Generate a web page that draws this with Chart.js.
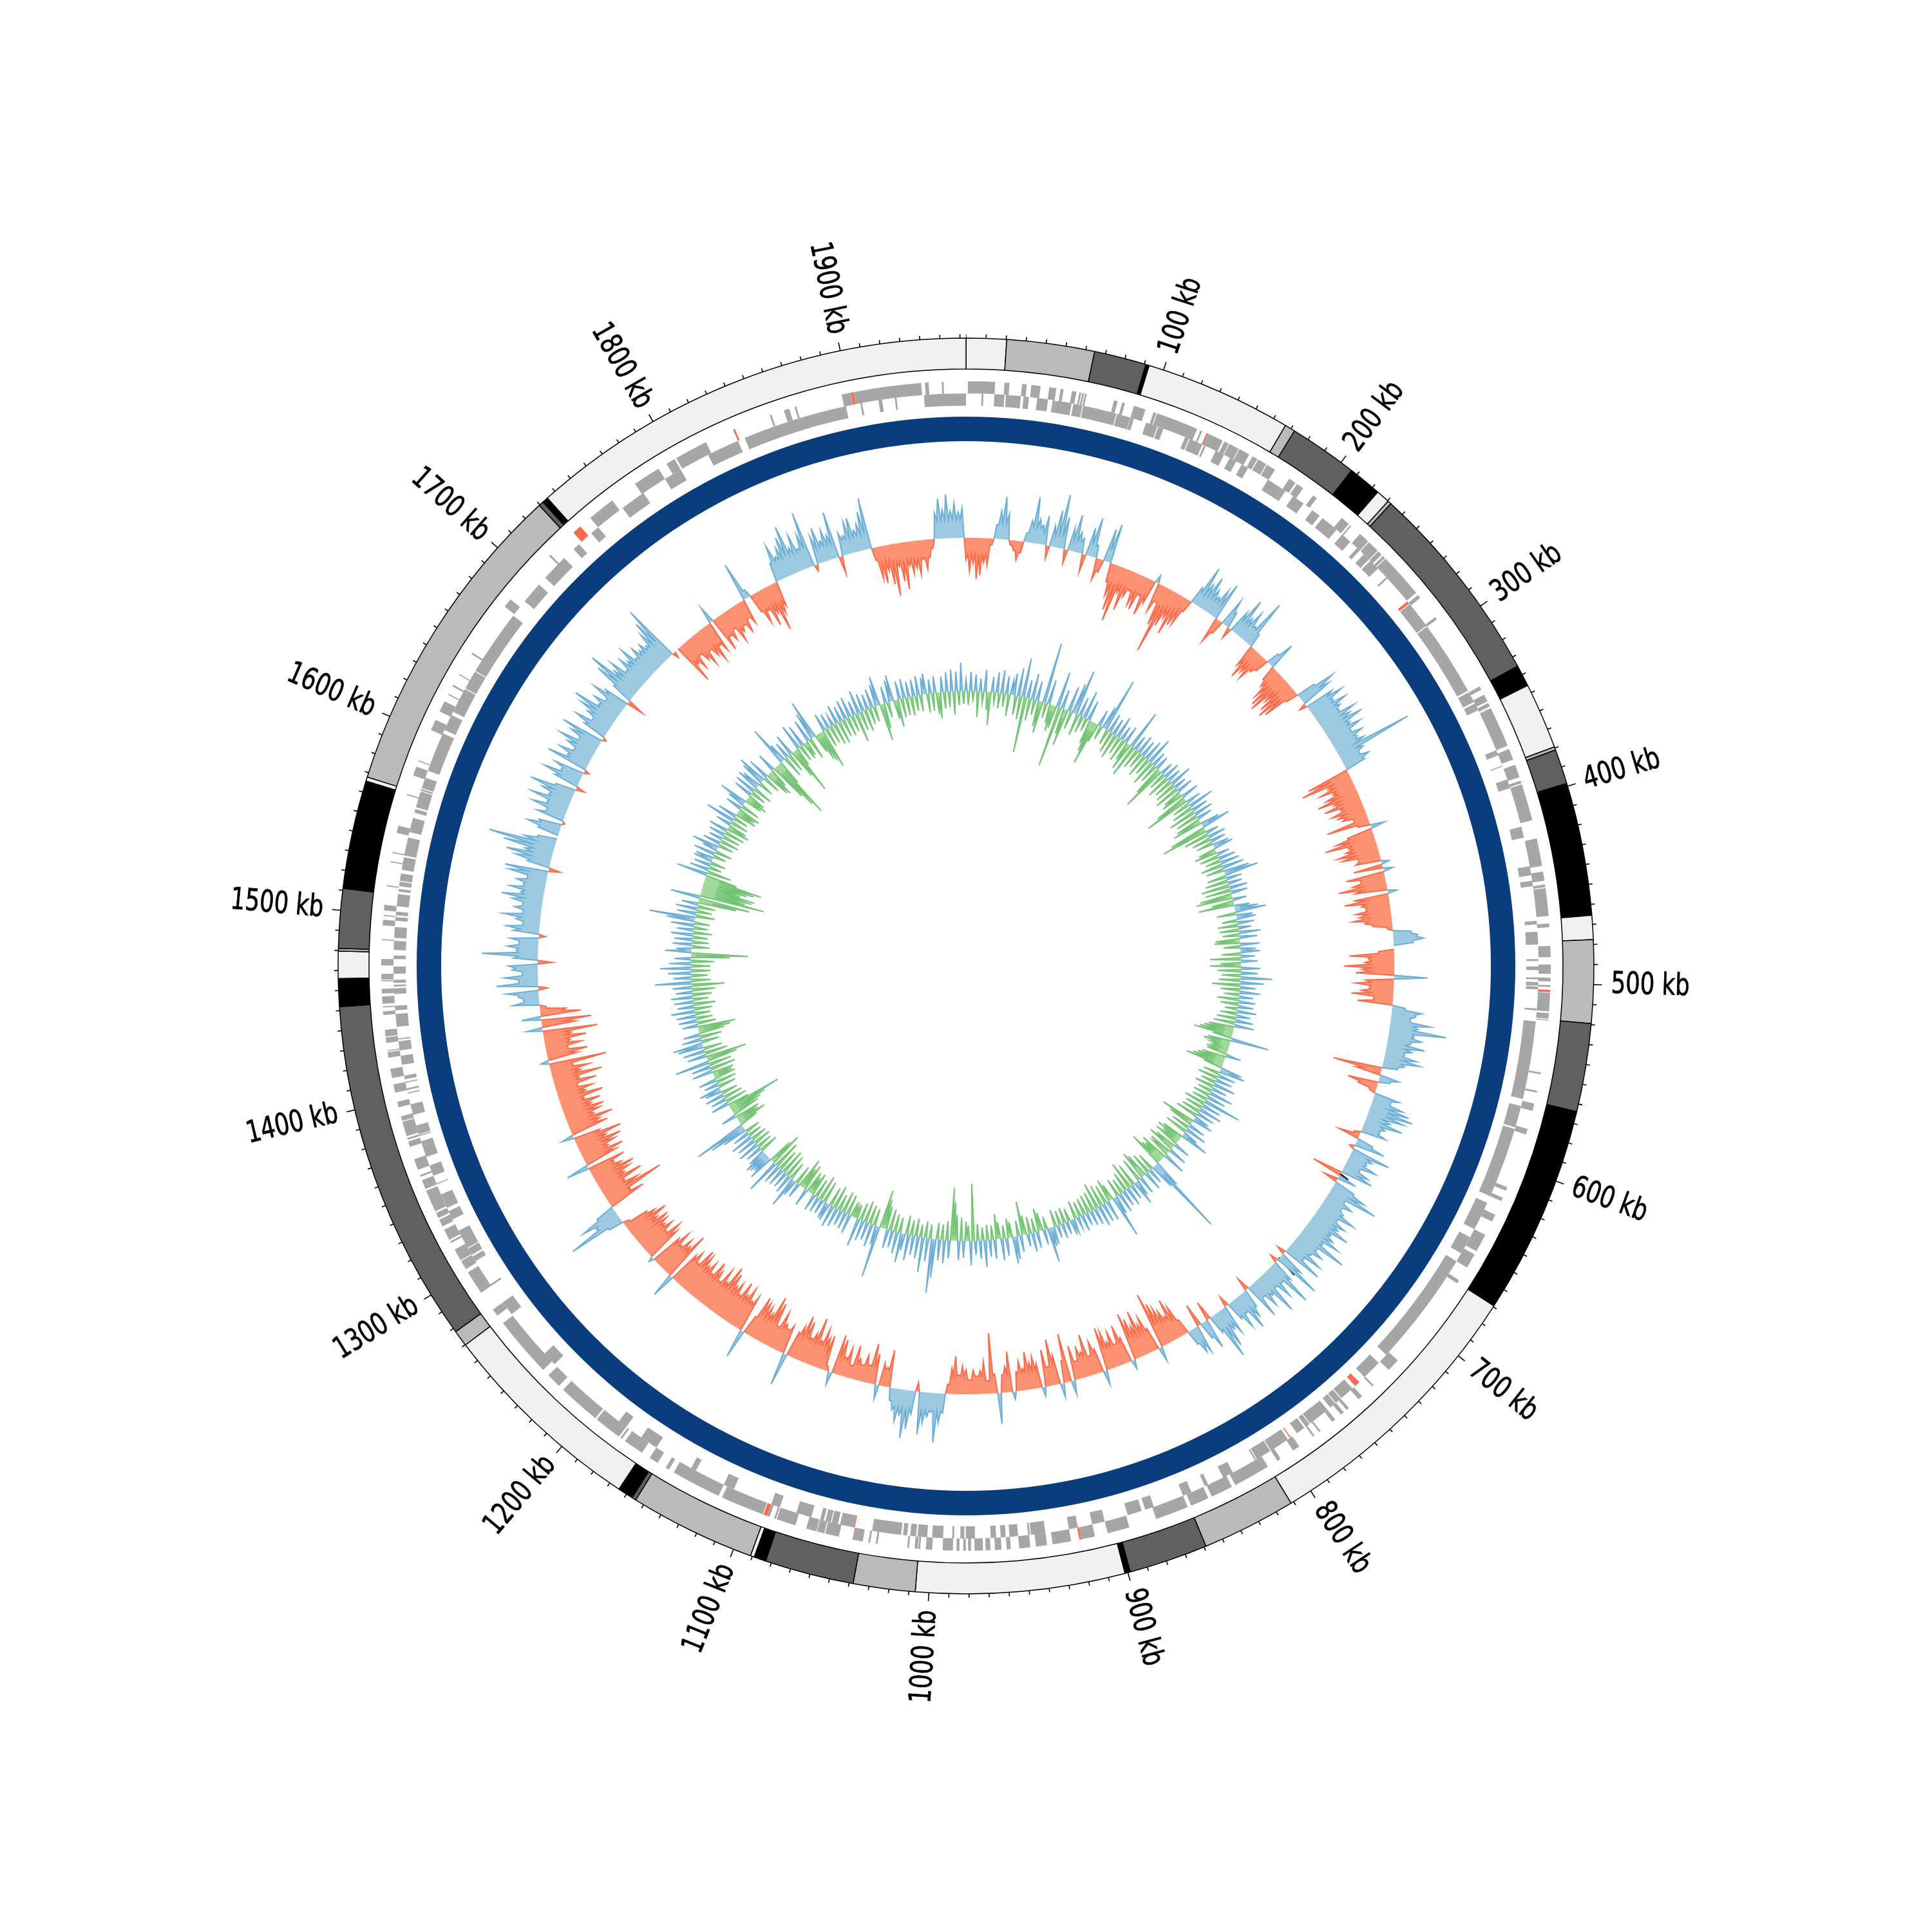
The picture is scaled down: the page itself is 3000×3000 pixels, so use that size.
<!DOCTYPE html>
<html><head><meta charset="utf-8">
<script src="https://cdn.jsdelivr.net/npm/chart.js@4"></script>
<style>html,body{margin:0;padding:0;background:#fff}#w{position:relative;width:3000px;height:3000px}canvas{position:absolute;left:0;top:0}</style>
</head><body><div id="w"><canvas id="rings" width="3000" height="3000"></canvas><canvas id="outerTrack" width="3000" height="3000"></canvas><canvas id="innerTrack" width="3000" height="3000"></canvas></div>
<script>
const genomeKb = 1963;
const majorKb = [100,200,300,400,500,600,700,800,900,1000,1100,1200,1300,1400,1500,1600,1700,1800,1900];
const tickLabels = ["100 kb","200 kb","300 kb","400 kb","500 kb","600 kb","700 kb","800 kb","900 kb","1000 kb","1100 kb","1200 kb","1300 kb","1400 kb","1500 kb","1600 kb","1700 kb","1800 kb","1900 kb"];
const bandEnds = [20.3,64.5,90.8,92.5,166.8,172,206.6,223.5,230.4,232.2,335.2,346,379.4,381,398.6,465.5,477.6,519.5,563.9,669.5,811.5,859,898.8,901.5,1006.8,1038,1083,1089,1091,1154.6,1156.7,1164.5,1269.8,1278,1452,1466,1479.7,1481,1511,1565.7,1567.8,1729.6,1732,1735,1963];
const bandStains = ["#f0f0f0","#bababa","#606060","#000000"];
const outerGenes = [[1,15.6],[20.6,23.3],[30,32.6],[35,40],[44.7,48.5],[50.8,52.4],[57,59.4],[61,62],[62.5,63.5],[64,65],[80,82],[84.5,86],[91,97.5],[102,103.6],[104,127],[129,130],[132.5,133.2],[133.2,142],[143,145.6],[146,151.6],[152,158],[160,163],[163.5,168.5],[169,174],[183,187],[188,192],[198.5,201],[218,223],[224,224.8],[231,237],[237.5,244],[244.5,247],[248,249.5],[250,274.5],[276,278],[291,292.5],[335,337],[340,344],[345,347],[348,370],[372,378],[381,388],[390,391.5],[392,412],[422,437],[440,445],[447,448.5],[449,464],[468,470],[480,486],[490,495],[497,499],[501,502],[503.5,504.7],[505,515],[516,519],[519.5,520],[548,549],[558,559],[565,569],[579,582],[612,614],[618,620],[628,632],[640,650],[652,660],[668,670],[722,729],[740.5,741.5],[749,751.5],[758.5,760],[762,764],[768,770],[778,779],[782,783],[792,796],[804,806],[812,832],[834,846],[848,858],[860,878],[893,905],[912,919.5],[919.5,920.5],[925,935],[938,944],[947,953],[957.5,959.7],[962.5,966],[968.4,971],[972.4,976.9],[978.8,980.4],[981.6,983],[985,986.6],[988.5,994],[999.6,1003],[1006,1007],[1007.3,1009],[1012,1013],[1029,1030],[1033,1034],[1037,1042.6],[1050,1057.5],[1058,1062],[1062.3,1068],[1074,1084.5],[1085,1086],[1088.5,1090],[1090,1092],[1092.4,1116],[1118,1145],[1148,1150],[1155,1160],[1165,1176],[1178,1179],[1180,1195],[1196,1219],[1222,1230],[1234,1267],[1272,1276],[1287,1300],[1302,1307],[1307.5,1314],[1318,1319],[1320,1326],[1328,1332],[1333,1336],[1337,1349],[1350,1355],[1357,1358],[1361,1367],[1374,1377],[1378,1379],[1380,1388],[1388.5,1391],[1396,1399],[1404,1408.5],[1412,1417],[1423,1426],[1426.5,1427],[1431,1434],[1434.5,1438],[1446,1448],[1450,1450.6],[1452,1456],[1457.5,1460],[1464,1464.6],[1465,1468],[1472.5,1476],[1486,1486.6],[1494,1497],[1499,1499.6],[1502,1505],[1515,1515.6],[1528,1528.6],[1533,1533.6],[1544,1548],[1565,1565.6],[1576,1581],[1584,1584.6],[1602,1608],[1613,1619],[1623,1623.6],[1628,1629],[1635,1635.6],[1648,1649],[1679,1684],[1715,1716],[1733,1738],[1745,1760],[1775,1790],[1795,1800],[1801,1819],[1835,1836],[1856,1857],[1864,1867],[1870,1871],[1896,1901],[1901,1902.5],[1902.5,1939],[1941,1943],[1950,1951]];
const innerGenes = [[8.5,9.5],[15.5,21],[21.8,30],[31.5,34.5],[39,45],[47.5,49],[49,58],[59,64],[64.5,83],[83.5,91],[91.2,93],[100,106.5],[107,110],[122.7,125],[125.5,131],[131,133],[134,135],[141,146],[149.6,153.6],[157,161],[173.6,183],[183,185],[190,197],[203,208],[210,220],[224,230],[235,237],[240,244],[245,251],[257.5,258.5],[275,276.5],[277,292],[292.5,334],[335,341],[342,346],[370,373],[379,379.6],[387,392],[414,420],[436,441],[444,447],[466,468],[472,479],[487,488],[491,493],[497,498],[499.5,501.5],[502,503.5],[514,515],[521,564],[568,580],[581,620],[624,640],[645,655],[660,724],[730,741],[745,748],[750,758],[758.5,762],[762.5,766],[768,780],[780.5,783],[784,789],[793,793.6],[795,806],[806.5,815],[815.5,816.3],[830,836],[845,847],[855,860],[877,882],[884,892],[905,912],[920,925],[938,946],[946.5,947.5],[953,957.7],[959.8,962.5],[965,968],[976.6,981.6],[982.4,984.6],[988,989],[994,1000],[1002.7,1008],[1008.8,1012],[1013.7,1016],[1017,1033],[1042.6,1043.2],[1043.2,1050.8],[1052,1055.5],[1056,1059],[1060,1062],[1067,1075.5],[1085,1090],[1112,1118],[1135,1138],[1160,1170],[1180,1185],[1232,1240],[1268,1276],[1287,1288],[1303,1306],[1307,1311],[1311.5,1322],[1329,1334],[1336,1344],[1350,1350.6],[1355,1361],[1366,1375],[1378,1378.6],[1379,1384],[1390,1396],[1402,1402.6],[1404,1405],[1408,1408.6],[1410,1412],[1418,1423],[1426,1431],[1432,1432.6],[1439,1446],[1448,1450.5],[1457,1460],[1461,1462],[1463,1464.7],[1468,1472],[1476,1478],[1481,1486],[1487.6,1493.5],[1497,1499],[1500,1502],[1505,1511.6],[1513,1514.5],[1516,1518.5],[1519,1523],[1525,1532],[1533,1543],[1546,1554],[1557,1559],[1560,1569],[1569.5,1570.5],[1571,1577],[1581,1603],[1605,1614],[1616,1630],[1630.5,1641],[1641.5,1678],[1688,1700],[1705,1720],[1727,1731],[1740,1745],[1762,1776],[1790,1800],[1817,1835],[1839,1897],[1905,1906],[1915,1917],[1924,1925],[1940,1963]];
const redGeneStarts = [132.5,275,503.5,745,793,919.5,1042.6,1090,1733,1835,1901];

const skewQ1 = [
-34,-52,-40,-64,-58,-38,-42,-10,22,44,66,40,-8,-16,-30,-18,14,34,72,38,
30,46,-20,32,58,84,50,-22,36,58,32,24,-28,44,62,20,-34,-20,52,62,
-30,-50,-72,-88,-40,-66,-42,-30,-50,-56,-30,-60,-38,12,-46,-28,-64,-107,-60,-44,
-68,-50,-46,-20,28,66,40,56,38,30,46,60,-41,-22,44,26,-18,36,62,34,
48,28,77,22,-36,-54,-40,-48,-30,-22,20,44,-24,-34,-50,-62,-68,-44,-58,-66,
-58,-20,30,62,50,-12,46,60,40,58,44,38,62,50,67,42,56,36,52,40,
48,123,40,30,43,33,-68,-81,-40,-55,-36,-50,-66,-42,-60,-35,-52,-44,-38,-22,
-68,-20,22,-40,-60,-80,-44,-50,-64,-58,-34,-40,12,-46,15,-60,-38,-52,-75,-50,
14,-55,-70,-44,-38,-54,-50,-60,-42,-30,-8,28,38,47,30,0,-24,-70,-40,-46];
const skewQ2 = [
-78,-50,-60,52,-44,-59,-38,-50,-65,-30,-55,20,47,38,30,62,44,89,40,52,
36,59,40,30,50,56,34,24,-77,-40,30,18,-48,-30,-10,40,28,50,62,70,
57,38,60,34,28,40,-10,-33,26,48,-8,62,36,30,48,24,42,51,-48,30,
-22,34,56,79,28,44,30,38,60,34,52,44,66,40,48,62,38,81,36,50,
34,56,30,64,-14,40,75,-13,36,75,30,52,28,70,34,48,26,58,-21,30,
44,60,28,50,30,-17,46,36,62,77,30,-30,48,28,-36,44,41,24,-24,-50,
-65,-40,-52,-60,-70,-89,22,-36,-58,-48,-72,-50,-64,-75,14,-40,-62,-34,-56,-42,
-60,-68,22,-38,-52,-30,-66,-40,-48,-28,-54,22,-76,-34,22,-46,-72,-30,-58,14,
-38,-50,-42,-59,-34,-46,-30,12,-63,-40,-28,48,-30,-94,-20,-50,-36,-28,-37,-22];
const skewQ3 = [
-38,-44,-30,-59,-40,-15,30,46,77,30,38,48,66,-14,36,60,75,40,50,34,
20,-58,-30,-36,22,-48,-63,-28,-42,-25,-34,-53,-20,-46,-30,-56,-62,20,-8,-55,
-50,-62,-42,-76,-50,-40,-64,-71,-52,-40,51,-46,-38,-44,-60,-34,-70,-78,-48,-56,
-60,-66,-30,45,-58,-48,-66,-52,-70,-46,-62,-54,-72,-80,-50,-68,-44,-58,-70,-46,
-62,-52,-66,-72,-44,-60,-50,38,-78,-54,-62,-46,-66,-50,8,-56,-66,-44,-60,-50,
-58,-64,-48,-68,-52,-40,-10,24,90,40,60,30,-60,-40,-98,-60,-40,-72,-46,-58,
-68,-50,-40,-60,36,-52,-66,-44,-58,-70,-48,-75,-42,19,-60,-50,-72,-44,-56,-64,
-46,-62,-38,-70,-44,-56,-34,-66,-40,-78,-46,-60,-36,-90,12,-48,-64,-34,-56,-40,
-66,-44,-85,24,-52,-78,30,-63,-40,-10,41,24,32,50,-14,65,30,52,24,40];
const skewQ4 = [
45,-22,38,87,34,48,30,44,-10,40,51,26,38,58,28,42,30,48,65,36,
54,34,46,30,60,68,-18,36,56,72,44,80,105,50,30,0,34,53,36,-4,
44,30,56,34,62,36,50,72,32,-14,40,60,34,48,-8,66,36,52,30,46,
62,32,50,68,-6,38,56,30,44,60,75,36,48,30,58,40,-27,34,70,87,
48,60,34,52,42,60,36,50,40,46,38,56,72,92,-10,0,-66,-38,-50,-30,
-44,-56,-34,-48,-60,-38,-50,27,-56,-36,-46,-30,-55,-42,-34,-48,-28,-40,61,13,
-30,-52,-34,-62,-44,-75,-50,-40,30,57,36,48,62,78,40,58,34,54,88,-10,
44,56,32,48,38,73,-27,36,30,50,55,34,42,60,80,-20,-50,-58,-40,-62,
-81,-36,-60,-73,-38,-50,-42,-53,-30,-46,-28,-14,40,62,44,68,42,54,40,46];
const skewValley = [25,18,28,22,24,35,30,38,36,36,28,26,34,28,26,34,34,28,28,26,36,42,42,36,36,34,34,30,32,32,32,32,34,30,24,28];
const blackMarkIndex = [65,238,266,338,507,682];
const blackMarkFrom = [6,-3,-1,-15,-1,33];
const blackMarkTo = [18,15,35,-3,-8,0];

const gcQ1 = [
18,-22,30,-14,26,-40,20,-18,34,-28,-51,24,-16,32,-24,36,-20,28,-34,22,
34,-30,44,-36,61,-87,28,-34,40,-24,30,-40,-50,95,-24,38,-30,-42,-36,56,
-95,30,-40,-58,40,-28,48,71,-34,30,-26,44,-20,32,-38,-50,-69,-30,26,-22,
36,85,-24,30,-34,26,-40,34,-28,22,-36,28,-30,-44,62,-51,24,-32,30,-26,
26,-36,32,-28,43,-40,24,-30,22,-48,-72,20,-28,26,-38,22,-30,35,-34,20,
-40,26,-30,-36,28,-52,-72,24,-28,41,-34,26,-44,30,-36,24,-40,-48,30,46,
-58,-74,20,-40,28,-30,24,-26,26,31,-28,-36,20,-30,26,-24,30,-34,34,-28,
40,53,-30,24,-36,22,-44,28,-40,26,-50,-57,22,-34,-56,24,36,48,-30,26,
30,-24,26,-32,20,-30,34,-26,28,-38,-40,30,-26,24,30,-30,22,-48,26,-32];
const gcQ2 = [
-48,30,-36,26,-30,49,-34,36,-44,24,-30,32,-24,22,-34,26,-28,24,-20,30,
-26,22,-30,28,-34,31,-40,-46,-52,-61,-30,60,-36,-42,-30,-26,-34,-32,24,-38,
-44,-50,-60,-30,34,40,-26,28,-32,26,-24,34,-30,24,-22,38,-26,30,-24,59,
-34,30,-28,36,-30,28,-36,24,32,-55,-40,26,-30,34,-36,24,45,-34,-42,-30,
-40,26,-34,-44,30,-36,-30,36,-44,-36,-40,-56,44,126,40,-28,24,-34,30,-38,
-46,28,-38,26,39,-36,24,-44,30,-30,26,-24,32,-28,30,67,-26,-36,32,-30,
30,-34,33,-41,26,-30,24,-28,20,-26,26,-24,18,-28,22,24,-20,20,-24,24,
-22,20,-26,28,30,54,-20,24,-28,-36,26,-22,30,-26,20,-30,-53,26,-24,36,
42,-24,-30,28,-20,34,-26,-39,30,-22,26,-24,42,-20,28,-26,22,-89,38,-24];
const gcQ3 = [
-30,26,-36,30,-40,-60,-82,28,-30,36,-24,32,-26,60,84,-22,36,-26,54,-20,
34,-28,30,-24,40,-30,26,46,-24,34,-28,26,-34,30,-36,-46,-60,81,30,-26,
36,-30,28,-34,32,-28,44,-22,-20,-24,30,-32,26,-34,24,-26,30,-36,34,-30,
28,26,-34,22,-40,24,-30,26,-36,-28,-34,28,-42,-34,-48,24,-30,26,49,-28,
30,-36,26,-40,28,-34,30,-44,54,-54,-40,40,30,34,38,28,-30,26,-24,34,
-28,30,-26,36,-22,26,-24,40,60,83,-30,-47,-36,-40,24,-44,-50,-60,-86,-34,
28,-34,24,-30,30,-26,26,34,-28,22,-32,28,-34,-30,-34,32,-40,30,-36,54,
-48,-64,30,-36,34,-30,40,47,-28,30,-34,26,-40,-50,-59,24,-30,28,-26,30,
-24,37,-28,26,-34,30,-24,34,-30,26,-36,30,-51,57,-30,28,-26,36,-30,48];
const gcQ4 = [
-30,34,-36,26,-60,-88,41,24,-28,30,-26,28,-24,34,-30,26,-22,36,-24,44,
72,-30,30,-24,34,-28,26,-60,-80,46,-102,-70,-80,-84,-60,-70,-80,-91,-50,48,
-38,30,-20,26,-24,30,28,-20,34,-26,24,42,-24,28,-30,22,-28,26,-32,30,
-36,-30,24,-28,46,-24,30,-34,-30,-36,26,-30,28,45,-28,-34,-28,30,-24,34,
-30,36,30,-24,38,47,-28,34,-40,-44,-30,30,-60,-80,-97,-40,63,30,-34,26,
-30,34,-46,-75,-30,40,-26,34,-28,-24,36,-34,44,62,-30,-46,-50,-62,28,-30,
24,-28,17,-34,30,-36,24,-28,30,-30,32,-26,22,-46,36,-30,28,-34,24,-26,
30,-24,34,46,-58,-40,26,-24,34,41,-30,-43,28,-30,30,-28,24,-30,26,-24,
30,-26,26,32,-30,22,-28,26,-34,-41,24,-26,30,-24,34,-36,30,-22,44,-20];
const gcValley = [8,10,14,8,8,10,8,8,8,8,14,14,8,18,8,6,6,6,6,6,6,6,10,10,8,8,8,8,22,8,8,14,8,8,8,8];

const skewPeaks = [...skewQ1,...skewQ2,...skewQ3,...skewQ4];
const gcPeaks = [...gcQ1,...gcQ2,...gcQ3,...gcQ4];
const CLEAR = "rgba(0,0,0,0)";

function withValleys(peaks, valleys){
  const out = [];
  peaks.forEach((a,i)=>{
    const b = peaks[(i+1)%peaks.length], read = valleys[Math.floor(i/20)];
    out.push(a);
    out.push(a*b>0 ? Math.sign(a)*Math.min(Math.abs(a),Math.abs(b),read) : 0);
  });
  return out;
}
function side(values, positive){
  const n = values.length, out = [];
  const on = x => positive ? x>0 : x<0;
  for(let i=0;i<n;i++){
    const v = values[i], p = values[(i+n-1)%n], q = values[(i+1)%n];
    out.push(on(v) ? v : (on(p)||on(q) ? 0 : null));
  }
  return out;
}
function bandRing(){
  let prev = 0; const data = [], colors = [];
  bandEnds.forEach((e,i)=>{ data.push(e-prev); colors.push(bandStains[i%4]); prev = e; });
  return {data, backgroundColor:colors, borderColor:"#000", borderWidth:1.5, weight:48};
}
function geneRing(list){
  let pos = 0; const data = [], colors = [];
  list.forEach(([s,e])=>{
    if(s>pos){ data.push(s-pos); colors.push(CLEAR); }
    data.push(e-s); colors.push(redGeneStarts.includes(s) ? "#fb6a4a" : "#a6a6a6");
    pos = e;
  });
  if(pos<genomeKb){ data.push(genomeKb-pos); colors.push(CLEAR); }
  return {data, backgroundColor:colors, borderWidth:0, weight:19};
}
function tickRing(positions, weight){
  const hw = 0.26; let pos = 0; const data = [], colors = [];
  positions.forEach(k=>{
    const a = Math.max(k-hw,0), b = Math.min(k+hw,genomeKb);
    if(a>pos){ data.push(a-pos); colors.push(CLEAR); }
    data.push(b-a); colors.push("#000"); pos = b;
  });
  if(pos<genomeKb){ data.push(genomeKb-pos); colors.push(CLEAR); }
  return {data, backgroundColor:colors, borderWidth:0, weight};
}
const allTicks = [];
for(let k=0;k<=1960;k+=10) allTicks.push(k);
const majorRing = tickRing(majorKb,7);

const labelPlugin = {
  id:"kbLabels",
  afterDatasetsDraw(chart){
    const ctx = chart.ctx, arcs = chart.getDatasetMeta(0).data;
    const ticks = arcs.filter((a,i)=>majorRing.backgroundColor[i]==="#000");
    ctx.save();
    ctx.fillStyle = "#000"; ctx.strokeStyle = "#000"; ctx.lineWidth = 0.7;
    ctx.font = "47px 'DejaVu Sans Condensed','DejaVu Sans'";
    ctx.textBaseline = "middle";
    ticks.forEach((arc,i)=>{
      const mid = (arc.startAngle+arc.endAngle)/2, r = arc.outerRadius+14;
      const x = arc.x+Math.cos(mid)*r, y = arc.y+Math.sin(mid)*r;
      ctx.save(); ctx.translate(x,y);
      const deg = (mid+Math.PI/2)*180/Math.PI;
      if(deg<180){ ctx.rotate(mid); ctx.textAlign="left"; }
      else { ctx.rotate(mid+Math.PI); ctx.textAlign="right"; }
      ctx.scale(0.84,1);
      ctx.fillText(tickLabels[i],0,0);
      ctx.strokeText(tickLabels[i],0,0);
      ctx.restore();
    });
    ctx.restore();
  }
};

new Chart(document.getElementById("rings"),{
  type:"doughnut",
  data:{labels:[],datasets:[
    majorRing,
    tickRing(allTicks,6),
    bandRing(),
    {data:[genomeKb],backgroundColor:[CLEAR],borderWidth:0,weight:19},
    geneRing(outerGenes),
    geneRing(innerGenes),
    {data:[genomeKb],backgroundColor:[CLEAR],borderWidth:0,weight:17},
    {data:[genomeKb],backgroundColor:["#0a3d7d"],borderWidth:0,weight:38}
  ]},
  options:{responsive:false,animation:false,devicePixelRatio:1,events:[],radius:988,cutout:(815/988*100)+"%",
    plugins:{legend:{display:false},tooltip:{enabled:false}}},
  plugins:[labelPlugin]
});

function track(id,baseline,values,posLine,posFill,negLine,negFill,extra){
  const labels = values.map((_,i)=>i);
  const ds = (data,line,fillCol)=>({data,borderColor:line,backgroundColor:fillCol,borderWidth:2,
    fill:{value:0},pointRadius:0,tension:0,spanGaps:false});
  const sets = [ds(side(values,true),posLine,posFill), ds(side(values,false),negLine,negFill)];
  if(extra) sets.push(extra(labels));
  new Chart(document.getElementById(id),{
    type:"radar",
    data:{labels,datasets:sets},
    options:{responsive:false,animation:false,devicePixelRatio:1,events:[],
      plugins:{legend:{display:false},tooltip:{enabled:false}},
      scales:{r:{min:-baseline,max:1500-baseline,grid:{display:false},angleLines:{display:false},
        ticks:{display:false},pointLabels:{display:false},border:{display:false}}}}
  });
}
track("outerTrack",665,withValleys(skewPeaks,skewValley),"#6baed6","#9ecae1","#fb6a4a","#fc9272",labels=>{
  const data = labels.map(()=>null);
  blackMarkIndex.forEach((k,i)=>{ data[k*2]=blackMarkFrom[i]; data[k*2+1]=blackMarkTo[i]; });
  return {data,borderColor:"#000",borderWidth:2.5,fill:false,pointRadius:0,tension:0,spanGaps:false};
});
track("innerTrack",427,withValleys(gcPeaks,gcValley),"#6baed6","#9ecae1","#74c476","#a1d99b");
</script>
</body></html>
